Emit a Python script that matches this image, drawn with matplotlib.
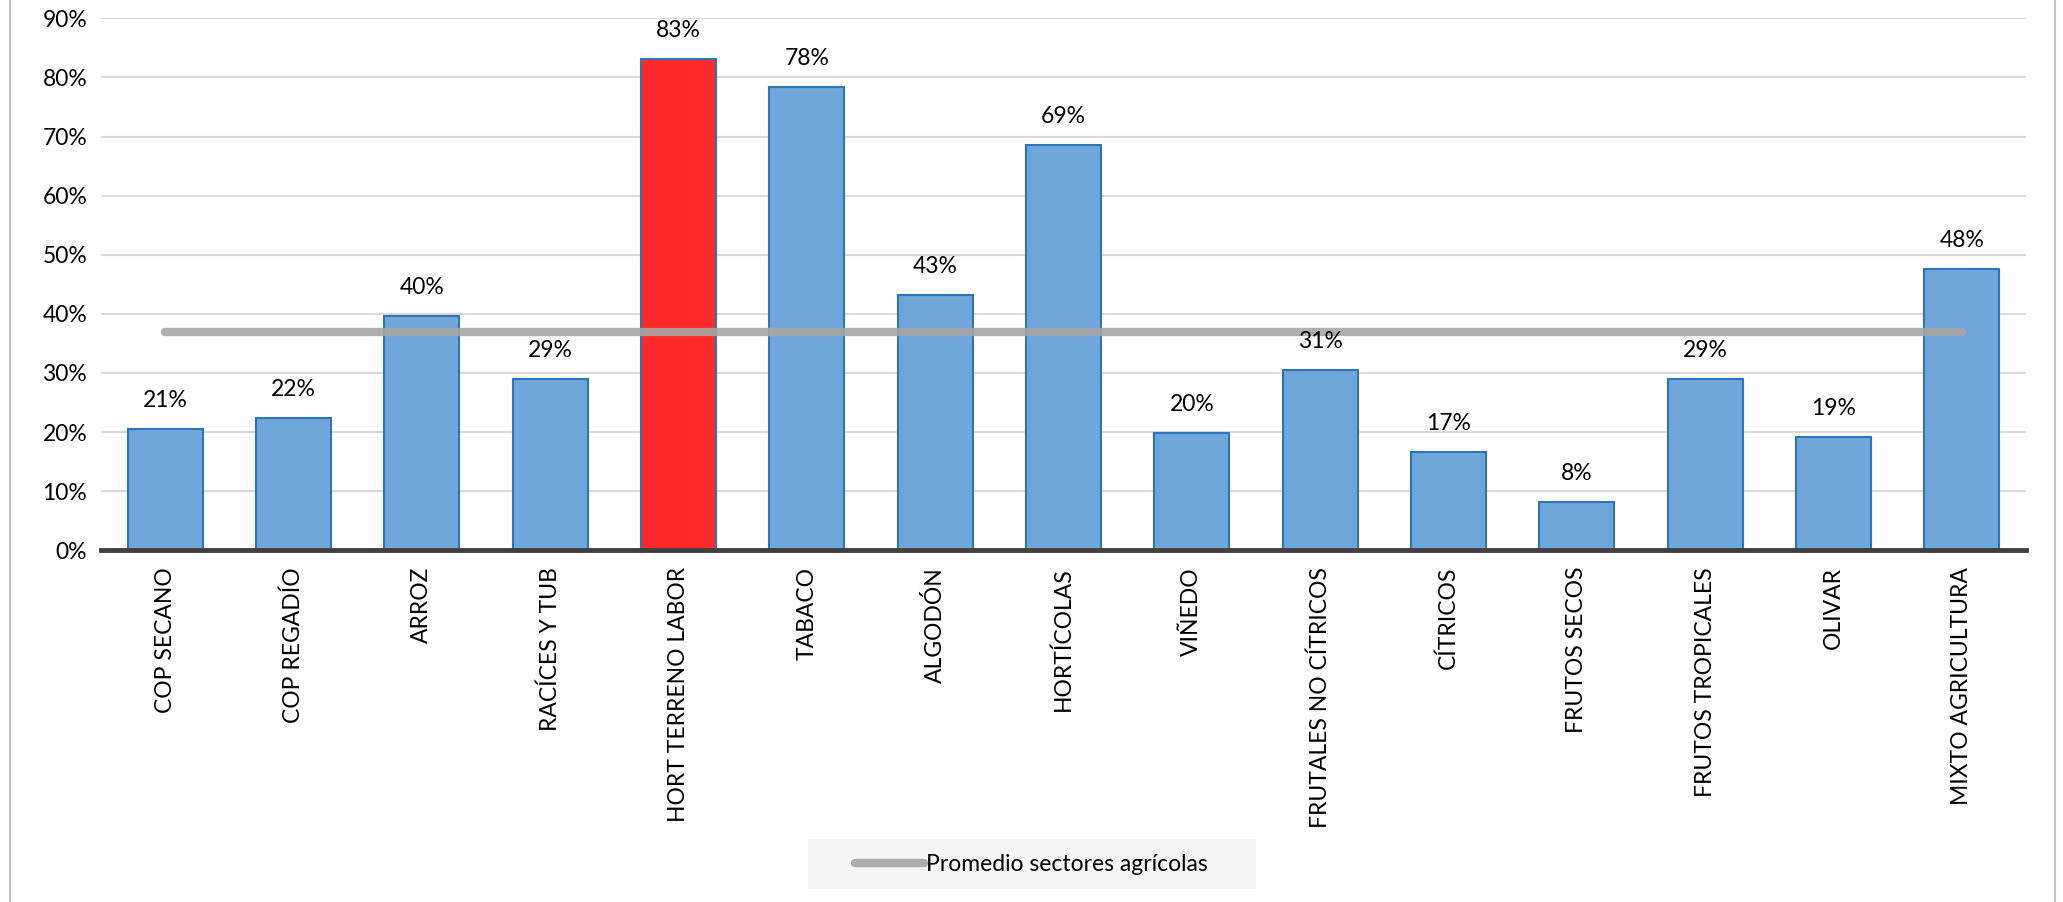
import matplotlib
matplotlib.use("Agg")
import matplotlib.pyplot as plt
from matplotlib.patches import Rectangle
from matplotlib.ticker import PercentFormatter

categorias = ["COP SECANO", "COP REGADÍO", "ARROZ", "RACÍCES Y TUB", "HORT TERRENO LABOR",
              "TABACO", "ALGODÓN", "HORTÍCOLAS", "VIÑEDO", "FRUTALES NO CÍTRICOS",
              "CÍTRICOS", "FRUTOS SECOS", "FRUTOS TROPICALES", "OLIVAR", "MIXTO AGRICULTURA"]
valores = [0.205, 0.223, 0.396, 0.290, 0.831, 0.784, 0.432, 0.686, 0.199, 0.305,
           0.166, 0.081, 0.289, 0.191, 0.476]
etiquetas = ["21%", "22%", "40%", "29%", "83%", "78%", "43%", "69%", "20%", "31%",
             "17%", "8%", "29%", "19%", "48%"]
promedio = 0.37
destacado = "HORT TERRENO LABOR"

plt.rcParams['font.family'] = ['Lato', 'DejaVu Sans']
fs = 16.5

fig = plt.figure(figsize=(20.63, 9.02), dpi=100)
ax = fig.add_axes([0.049, 0.390, 0.933, 0.5896])

x = list(range(len(categorias)))
colores = ['#FF2A2A' if c == destacado else '#70A6D9' for c in categorias]
ax.bar(x, valores, width=0.585, color=colores, edgecolor='#2E75B6', linewidth=1.5, zorder=2)
ax.plot(x, [promedio] * len(x), color='#A6A6A6', linewidth=6, solid_capstyle='round',
        alpha=0.9, zorder=3, label='Promedio sectores agrícolas')

for xi, v, t in zip(x, valores, etiquetas):
    ax.annotate(t, (xi, v), xytext=(0, 13), textcoords='offset points',
                ha='center', va='bottom', fontsize=fs, color='#000000')

ax.set_xlim(-0.5, len(categorias) - 0.5)
ax.set_ylim(0, 0.9)
ax.set_yticks([i / 10 for i in range(10)])
ax.yaxis.set_major_formatter(PercentFormatter(1.0, decimals=0))
ax.set_xticks(x)
ax.set_xticklabels(categorias, rotation=90, fontsize=fs)
ax.tick_params(axis='y', labelsize=fs, length=0, pad=10)
ax.tick_params(axis='x', length=0, pad=12)
ax.grid(axis='y', color='#D9D9D9', linewidth=1.5, zorder=0)
ax.set_axisbelow(True)
for s in ['top', 'right', 'left']:
    ax.spines[s].set_visible(False)
ax.spines['bottom'].set_color('#404040')
ax.spines['bottom'].set_linewidth(3.5)
ax.spines['bottom'].set_zorder(4)

# fondo de la leyenda
fig.patches.append(Rectangle((808 / 2063, (902 - 889) / 902), 448 / 2063, 50 / 902,
                             transform=fig.transFigure, facecolor='#F5F5F5',
                             edgecolor='none', zorder=0))
fig.legend(loc='center', bbox_to_anchor=(0.5, 0.0416), fontsize=fs, frameon=False,
           handlelength=3.0, handletextpad=0.1)

# marco exterior
fig.patches.append(Rectangle((0.005, -0.02), 0.991, 1.05, transform=fig.transFigure,
                             fill=False, edgecolor='#BFBFBF', linewidth=1.5))

fig.savefig("out.png", dpi=100, facecolor='white')
